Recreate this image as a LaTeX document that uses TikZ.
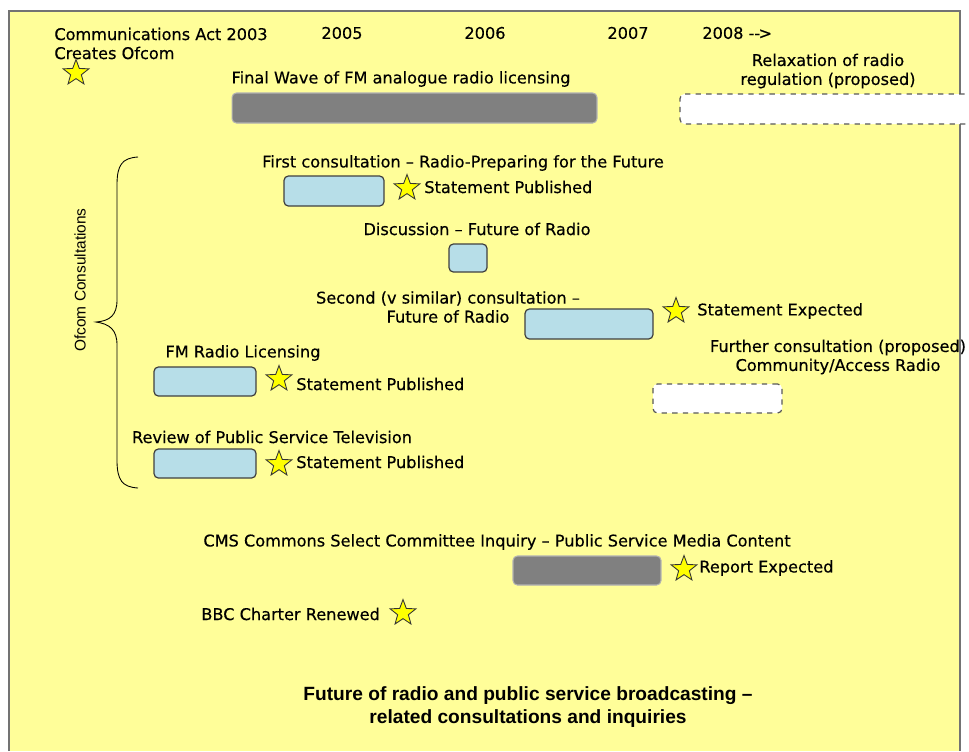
\documentclass[tikz,border=0pt]{standalone}
\usepackage{fontspec}
\setmainfont[FakeBold=0.35]{DejaVu Sans}
\newfontfamily\titlefont[Ligatures=TeX]{Liberation Sans}
\usetikzlibrary{shapes.geometric}
\definecolor{paper}{HTML}{FFFE99}
\definecolor{barblue}{HTML}{B7DEE8}
\definecolor{bargray}{HTML}{808080}
\definecolor{staryellow}{HTML}{FFFF00}

\begin{document}
\begin{tikzpicture}[x=0.02cm, y=-0.02cm, every node/.style={font=\fontsize{9.2}{10.8}\selectfont, inner sep=0pt, align=center}]

        \tikzset{starmark/.style = {star, star points=5, star point ratio=2.4, minimum size=0.54cm, draw=black!80, fill=staryellow, line width=0.5pt}}
        \tikzset{bluebar/.style = {rectangle, rounded corners=2.5pt, draw=black!75, fill=barblue, line width=0.7pt}}
        \tikzset{graybar/.style = {rectangle, rounded corners=2.5pt, draw=black!30, fill=bargray, line width=0.6pt}}
        \tikzset{planbar/.style = {rectangle, rounded corners=2.5pt, draw=black!65, fill=white, dashed, line width=0.7pt}}

        \useasboundingbox (0,0) rectangle (969,751);
        \clip (0,0) rectangle (969,751);

        % background sheet
        \fill[paper] (8,10) rectangle (961,751);
        \draw[black!55, line width=1.4pt] (9,751) -- (9,11) -- (960,11) -- (960,751);

        % time line
        \node[anchor=west] (act) at (54,34) {Communications Act 2003};
        \node[anchor=west] (ofcom) at (54,53) {Creates Ofcom};
        \node[starmark] (s0) at (76,73) {};
        \node (y5) at (342,33) {2005};
        \node (y6) at (485,33) {2006};
        \node (y7) at (628,33) {2007};
        \node[anchor=west] (y8) at (702,33) {2008 -{}-\kern-1pt>};

        % FM licensing and relaxation
        \node (fmwave) at (401,79) {Final Wave of FM analogue radio licensing};
        \node[graybar, minimum width=7.3cm, minimum height=0.6cm] (b1) at (414.5,108) {};
        \node (relax) at (828,71) {Relaxation of radio\\regulation (proposed)};
        \node[planbar, minimum width=6.2cm, minimum height=0.6cm] (b2) at (835,109) {};

        % Ofcom consultations
        \draw[black, line width=0.5pt] (138,157) .. controls (122,158) and (117,165) .. (117,185)
            -- (117,300) .. controls (117,315) and (110,321) .. (96,322)
            .. controls (110,324) and (117,330) .. (117,345)
            -- (117,460) .. controls (117,480) and (122,487) .. (138,488);
        \node[rotate=90, font=\titlefont\fontsize{8.8}{10}\selectfont] (oc) at (80,280) {Ofcom Consultations};

        \node (first) at (463,163) {First consultation -- Radio-Preparing for the Future};
        \node[bluebar, minimum width=2cm, minimum height=0.6cm] (b3) at (334,191) {};
        \node[starmark] (s1) at (407,188) {};
        \node[anchor=west] (p1) at (424,187) {Statement Published};

        \node (disc) at (477,229) {Discussion -- Future of Radio};
        \node[bluebar, minimum width=0.76cm, minimum height=0.56cm] (b4) at (468,258) {};

        \node (second) at (448,307) {Second (v similar) consultation --\\Future of Radio};
        \node[bluebar, minimum width=2.56cm, minimum height=0.6cm] (b5) at (589,324) {};
        \node[starmark] (s2) at (676,311) {};
        \node[anchor=west] (p2) at (697,311) {Statement Expected};

        \node (further) at (838,357) {Further consultation (proposed)\\Community/Access Radio};
        \node[planbar, minimum width=2.58cm, minimum height=0.58cm] (b6) at (717.5,398.5) {};

        \node (fmlic) at (243,353) {FM Radio Licensing};
        \node[bluebar, minimum width=2.04cm, minimum height=0.58cm] (b7) at (205,381.5) {};
        \node[starmark] (s3) at (279,379) {};
        \node[anchor=west] (p3) at (296,384) {Statement Published};

        \node (pstv) at (272,437) {Review of Public Service Television};
        \node[bluebar, minimum width=2.04cm, minimum height=0.58cm] (b8) at (205,463.5) {};
        \node[starmark] (s4) at (279,464) {};
        \node[anchor=west] (p4) at (296,462) {Statement Published};

        % inquiry and charter
        \node (cms) at (497,542) {CMS Commons Select Committee Inquiry -- Public Service Media Content};
        \node[graybar, minimum width=2.96cm, minimum height=0.58cm] (b9) at (587,570.5) {};
        \node[starmark] (s5) at (684,569) {};
        \node[anchor=west] (p5) at (699,568) {Report Expected};
        \node[anchor=west] (bbc) at (201,614) {BBC Charter Renewed};
        \node[starmark] (s6) at (403,613) {};

        % title
        \node[font=\titlefont\bfseries\fontsize{10.9}{13.4}\selectfont] (title) at (528,707) {Future of radio and public service broadcasting --\\related consultations and inquiries};
\end{tikzpicture}
\end{document}
